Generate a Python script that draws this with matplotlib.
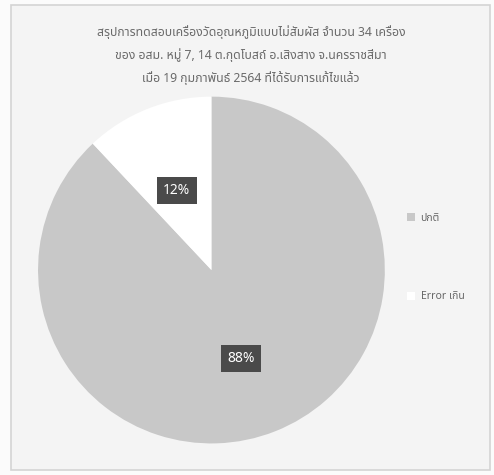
import matplotlib.pyplot as plt
from matplotlib import font_manager
from matplotlib.ft2font import FT2Font

labels = ['ปกติ', 'Error เกิน']
values = [88, 12]
colors = ['#c8c8c8', '#ffffff']
pct_labels = ['88%', '12%']
title_lines = ['สรุปการทดสอบเครื่องวัดอุณหภูมิแบบไม่สัมผัส จำนวน 34 เครื่อง',
               'ของ อสม. หมู่ 7, 14 ต.กุดโบสถ์ อ.เสิงสาง จ.นครราชสีมา',
               'เมื่อ 19 กุมภาพันธ์ 2564 ที่ได้รับการแก้ไขแล้ว']


def find_thai_fonts():
    # installed fonts that have Thai glyphs
    found = []
    for path in font_manager.findSystemFonts():
        try:
            f = FT2Font(path)
            if f.get_char_index(ord('ก')):
                found.append(font_manager.FontProperties(fname=path).get_name())
        except Exception:
            pass
    return sorted(set(found))


thai_fonts = find_thai_fonts()
pick = None
for name in ['Noto Sans Thai', 'Sarabun', 'IBM Plex Sans Thai', 'Anuphan']:
    if name in thai_fonts:
        pick = name
        break
if pick is None:
    prop = [n for n in thai_fonts if 'mono' not in n.lower()]
    pick = (prop or thai_fonts or ['DejaVu Sans'])[0]
plt.rcParams['font.family'] = [pick, 'DejaVu Sans']

fig = plt.figure(figsize=(4.94, 4.75), dpi=100, facecolor='#fbfbfb')
fig.patches.append(plt.Rectangle((11 / 494, 5 / 475), 479 / 494, 465 / 475,
                                 transform=fig.transFigure, facecolor='#f4f4f4',
                                 edgecolor='#d4d4d4', lw=1.2, zorder=-5))

ax = fig.add_axes([0.077, 0.063, 0.702, 0.737])
ax.set_facecolor('none')
wedges, texts = ax.pie(values, colors=colors, startangle=90, counterclock=False,
                       wedgeprops=dict(edgecolor='none'))
ax.set_xlim(-1, 1)
ax.set_ylim(-1, 1)
ax.set_aspect('equal')

# data labels in dark boxes
label_pos = [(0.17, -0.51), (-0.2, 0.46)]
for txt, (x, y) in zip(pct_labels, label_pos):
    ax.text(x, y, txt, ha='center', va='center', color='white', fontsize=10,
            bbox=dict(boxstyle='square,pad=0.45', fc='#4a4a4a', ec='none'))

for i, line in enumerate(title_lines):
    fig.text(0.508, 0.932 - i * 0.048, line, ha='center', va='center',
             fontsize=8.8, color='#6a6a6a', fontweight='bold')

leg = fig.legend(wedges, labels, loc='center left', bbox_to_anchor=(0.805, 0.458),
                 frameon=False, fontsize=7.5, labelcolor='#666666',
                 labelspacing=6.5, handlelength=0.8, handleheight=0.8,
                 handletextpad=0.5)

fig.savefig('out.png', dpi=100, facecolor=fig.get_facecolor())
